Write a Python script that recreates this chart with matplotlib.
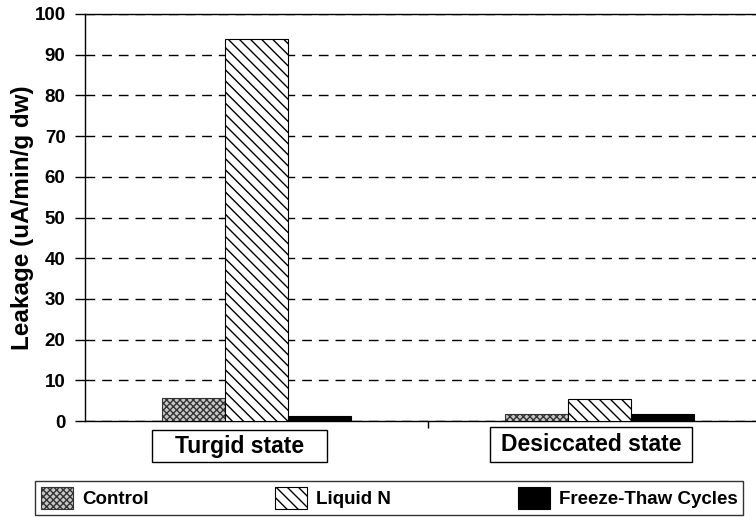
import numpy as np
import matplotlib
matplotlib.use("Agg")
import matplotlib.pyplot as plt
from matplotlib.patches import Patch, Rectangle

plt.rcParams.update({
    "font.family": "Liberation Sans",
    "font.weight": "bold",
    "hatch.linewidth": 1.0,
})

# -- data ---------------------------------------------------------------------
states = ["Turgid state", "Desiccated state"]
series = ["Control", "Liquid N", "Freeze-Thaw Cycles"]
control = [5.6, 1.7]
liquid_n = [93.9, 5.3]
freeze_thaw = [1.2, 1.6]
yticks = list(range(0, 101, 10))

W, H = 756, 517

# -- figure -------------------------------------------------------------------
fig = plt.figure(figsize=(W / 100, H / 100), dpi=100)
ax = fig.add_axes([85 / W, 1 - 421 / H, 686 / W, 407 / H])

x = np.arange(len(states))
w = 0.184
styles = [
    dict(facecolor="#c8c8c8", edgecolor="#333333", hatch="xxxxx"),
    dict(facecolor="white", edgecolor="black", hatch="\\\\\\"),
    dict(facecolor="black", edgecolor="black"),
]
for i, vals in enumerate([control, liquid_n, freeze_thaw]):
    ax.bar(x + (i - 1) * w, vals, w, lw=0.8, zorder=3, **styles[i])

ax.set_xlim(-0.5, 1.5)
ax.set_ylim(0, 100)
ax.set_yticks(yticks)
ax.set_yticklabels([str(t) for t in yticks], fontsize=13.5, fontweight="bold")
ax.yaxis.grid(True, ls=(0, (7, 5)), color="black", lw=1.0, zorder=0)
ax.set_axisbelow(True)
ax.tick_params(axis="y", direction="out", length=7, width=1, pad=7)
ax.set_xticks([0.5])
ax.set_xticklabels([""])
ax.tick_params(axis="x", direction="out", length=5, width=1)

ax.spines["right"].set_visible(False)
for s in ["left", "bottom", "top"]:
    ax.spines[s].set_linewidth(1.0)

ax.set_ylabel("Leakage (uA/min/g dw)", fontsize=17.5, fontweight="bold",
              labelpad=0)

# -- category labels in boxes -------------------------------------------------
boxes = [(152, 430, 327, 462), (490, 427, 692, 462)]
for name, (x0, y0, x1, y1) in zip(states, boxes):
    fig.patches.append(Rectangle((x0 / W, 1 - y1 / H), (x1 - x0) / W,
                                 (y1 - y0) / H, transform=fig.transFigure,
                                 facecolor="white", edgecolor="black", lw=1.0))
    fig.text((x0 + x1) / 2 / W, 1 - (y0 + y1) / 2 / H, name, ha="center",
             va="center", fontsize=16.5, fontweight="bold")

# -- legend -------------------------------------------------------------------
handles = [Patch(lw=0.8, **st) for st in styles]
leg = fig.legend(handles, series, loc="lower left", ncol=3,
                 bbox_to_anchor=(35 / W, 2 / H), fontsize=13.5,
                 frameon=True, fancybox=False, edgecolor="black",
                 handlelength=1.7, handleheight=1.5, handletextpad=0.5,
                 columnspacing=6.75, borderaxespad=0.0, borderpad=0.3)
leg.get_frame().set_linewidth(1.0)
for t in leg.get_texts():
    t.set_fontweight("bold")

fig.savefig("out.png", dpi=100)
